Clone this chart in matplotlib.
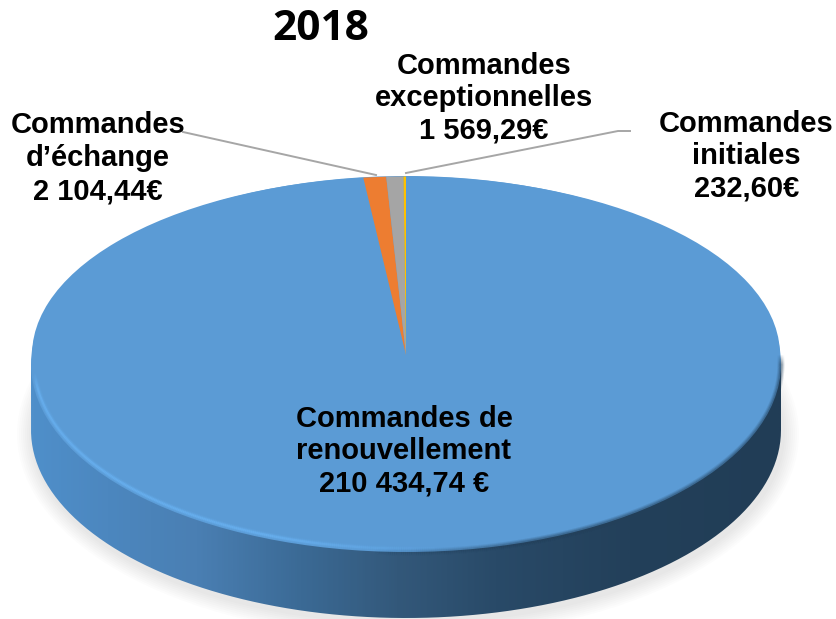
import numpy as np
import matplotlib
matplotlib.use("Agg")
import matplotlib.pyplot as plt
from matplotlib.patches import Ellipse, PathPatch
from matplotlib.path import Path
from matplotlib.collections import LineCollection
from matplotlib.colors import LinearSegmentedColormap, to_rgb

# data
categories = ["Commandes de\nrenouvellement", "Commandes\nd\u2019\u00e9change",
              "Commandes\nexceptionnelles", "Commandes\ninitiales"]
values = [210434.74, 2104.44, 1569.29, 232.60]
value_labels = ["210 434,74 \u20ac", "2 104,44\u20ac", "1 569,29\u20ac", "232,60\u20ac"]
colors = ["#5b9bd5", "#ed7d31", "#a5a5a5", "#ffc000"]
title = "2018"

W, H = 837, 619
cx, cy, rx, ry = 406, 364, 375, 188
depth = 66
# the tip of the slices sits a bit above the middle of the top face
tip_y = 355
k = (tip_y - 176) / rx

fig = plt.figure(figsize=(W / 100, H / 100), dpi=100)
fig.patch.set_facecolor("white")


def pixel_axes(z):
    a = fig.add_axes([0, 0, 1, 1], zorder=z)
    a.set_xlim(0, W)
    a.set_ylim(H, 0)
    a.axis("off")
    a.patch.set_alpha(0)
    return a


ax = pixel_axes(1)

# soft shadow
for w in np.arange(16, 0, -2):
    ax.add_patch(Ellipse((cx + 2, cy + depth + 4), 2 * (rx + w), 2 * (ry + w),
                         fc="black", ec="none", alpha=0.012))

# side of the disc, gradient clipped to the outline
t = np.linspace(np.pi, 0, 200)
side_x = np.r_[cx - rx, cx + rx * np.cos(t), cx + rx, cx - rx]
side_y = np.r_[cy, cy + depth + ry * np.sin(t), cy, cy]
side_path = Path(np.c_[side_x, side_y])
side_cmap = LinearSegmentedColormap.from_list("side", [
    (0.0, "#4f8fca"), (0.1, "#4c87bf"), (0.22, "#4a7fb3"), (0.36, "#3b6a95"),
    (0.49, "#33587a"), (0.62, "#294a68"), (0.8, "#23405a"), (1.0, "#213d56")])
im = ax.imshow(np.linspace(0, 1, 400)[None, :], cmap=side_cmap, aspect="auto",
               extent=[cx - rx, cx + rx, cy + depth + ry, cy], zorder=2)
clip = PathPatch(side_path, transform=ax.transData, fc="none", ec="none")
ax.add_patch(clip)
im.set_clip_path(clip)
ax.set_xlim(0, W)
ax.set_ylim(H, 0)

# top face
ax.add_patch(Ellipse((cx, cy), 2 * rx, 2 * ry, fc=colors[0], ec="none", zorder=3))

# slices
ax_pie = fig.add_axes([0, 0, 1, 1], zorder=2)
ax_pie.pie(values, colors=colors, startangle=90, counterclock=False, radius=rx - 1,
           center=(cx, (H - tip_y) / k), wedgeprops={"linewidth": 0})
ax_pie.set_aspect("auto")
ax_pie.set_xlim(0, W)
ax_pie.set_ylim(0, H / k)
ax_pie.patch.set_alpha(0)

ax_top = pixel_axes(3)


def soft_arc(a0, a1, color, width, alpha, inset=0.0, fade_in=0.2, fade_out=0.2):
    # arc of the top face with its ends faded out
    a = np.radians(np.linspace(a0, a1, 300))
    x = cx + (rx - inset) * np.cos(a)
    y = cy + (ry - inset) * np.sin(a)
    pts = np.c_[x, y]
    segs = np.stack([pts[:-1], pts[1:]], axis=1)
    s = np.linspace(0, 1, len(segs))
    env = np.clip(s / fade_in, 0, 1) * np.clip((1 - s) / fade_out, 0, 1)
    rgba = np.zeros((len(segs), 4))
    rgba[:, :3] = to_rgb(color)
    rgba[:, 3] = alpha * env
    ax_top.add_collection(LineCollection(segs, colors=rgba, linewidths=width,
                                         capstyle="butt"))


# dark blurred edge on the right, light rim on the left
for lw, al in [(7, 0.14), (5, 0.2), (3, 0.3)]:
    soft_arc(-3, 95, "#23405a", lw * 0.72, al, fade_in=0.03, fade_out=0.25)
for lw, al in [(6, 0.12), (4, 0.25), (2.2, 0.5)]:
    soft_arc(178, 82, "#6cb6f7", lw * 0.72, al, inset=3.5, fade_in=0.06, fade_out=0.3)

# leader lines
ax_top.plot([183, 376], [132, 175], color="#a6a6a6", lw=1.4)
ax_top.plot([406, 618, 630], [173, 131, 131], color="#a6a6a6", lw=1.4)

# labels
font = dict(family="Liberation Sans", fontweight="bold", color="black",
            ha="center", va="center", fontsize=21)
label_pos = [(404, 451), (98, 158.5), (484, 98), (746.5, 156.5)]
label_space = [1.2, 1.25, 1.2, 1.2]
for cat, val, (lx, ly), sp in zip(categories, value_labels, label_pos, label_space):
    ax_top.text(lx, ly, cat + "\n" + val, linespacing=sp, multialignment="center", **font)

ax_top.text(321, 29, title, family="Open Sans", fontweight="bold", fontsize=30.5,
            color="black", ha="center", va="center")

fig.savefig("out.png", dpi=100)
plt.close(fig)
